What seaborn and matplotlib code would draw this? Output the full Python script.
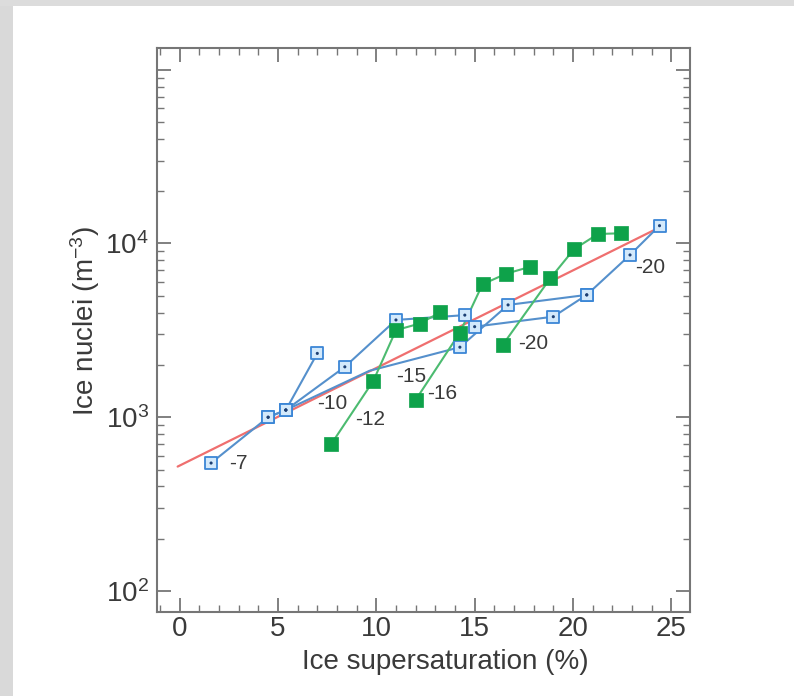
import matplotlib
matplotlib.use("Agg")
import numpy as np
import pandas as pd
import seaborn as sns
import matplotlib.pyplot as plt
from matplotlib.ticker import FixedLocator, MultipleLocator, NullFormatter
from matplotlib.patches import Rectangle

# ---------------- data ----------------
# blue curves (open squares)
b7_x = [1.6, 4.5, 5.4, 7.0]
b7_y = [545, 1000, 1100, 2330]
b7_mark = [1, 1, 1, 1]

b10_x = [4.5, 5.4, 8.4, 11.0, 14.5, 15.0, 19.0, 20.7]
b10_y = [1000, 1100, 1950, 3630, 3870, 3320, 3790, 5060]
b10_mark = [1, 1, 1, 1, 1, 1, 1, 1]

b15_x = [5.4, 9.65, 14.25, 16.7, 20.7, 22.9, 24.4]
b15_y = [1100, 1850, 2530, 4430, 5060, 8590, 12660]
b15_mark = [1, 0, 1, 1, 1, 1, 1]

# green curves (filled squares)
g12_x = [7.7, 9.85, 11.0, 12.2, 13.25]
g12_y = [698, 1620, 3170, 3460, 4010]

g16_x = [12.0, 14.25, 15.4, 16.6, 17.84]
g16_y = [1257, 3070, 5820, 6700, 7350]

g20_x = [16.43, 18.85, 20.05, 21.27, 22.45]
g20_y = [2610, 6310, 9260, 11340, 11450]

# red fit line
red_x = [-0.1, 24.1]
red_y = [520, 11900]

# curve labels (temperature, deg C)
lab_text = ["-7", "-10", "-15", "-20", "-12", "-16", "-20"]
lab_x = [2.5, 7.0, 11.0, 23.15, 8.9, 12.6, 17.2]
lab_y = [542, 1200, 1715, 7280, 964, 1370, 2655]

xticks = [0, 5, 10, 15, 20, 25]
yticks = [1e2, 1e3, 1e4, 1e5]
ytick_labels = ["10$^2$", "10$^3$", "10$^4$", ""]
yminor = [m * 10 ** e for e in (2, 3, 4) for m in range(2, 10)]

# ---------------- frames ----------------
def frame(name, xs, ys, marks=None):
    if marks is None:
        marks = [1] * len(xs)
    return pd.DataFrame({"S": xs, "N": ys, "curve": name, "mark": marks})

blue = pd.concat([frame("-7", b7_x, b7_y, b7_mark),
                  frame("-10", b10_x, b10_y, b10_mark),
                  frame("-15", b15_x, b15_y, b15_mark)], ignore_index=True)
green = pd.concat([frame("-12", g12_x, g12_y),
                   frame("-16", g16_x, g16_y),
                   frame("-20", g20_x, g20_y)], ignore_index=True)
red = pd.DataFrame({"S": red_x, "N": red_y})

# ---------------- style ----------------
sns.set_theme(style="white")
plt.rcParams["font.family"] = ["Liberation Sans", "DejaVu Sans"]
plt.rcParams["mathtext.fontset"] = "custom"
plt.rcParams["mathtext.rm"] = "Liberation Sans"
plt.rcParams["mathtext.it"] = "Liberation Sans:italic"
plt.rcParams["mathtext.bf"] = "Liberation Sans:bold"

BLUE_LINE = "#5590cc"
BLUE_EDGE = "#3b86d6"
BLUE_FACE = "#d3e9fb"
GREEN_LINE = "#4cbb70"
GREEN_MARK = "#0ea24a"
RED = "#ef6f6f"
FRAME = "#767676"
TXT = "#3a3a3a"

fig = plt.figure(figsize=(7.94, 6.96), dpi=100)
fig.patch.set_facecolor("white")
fig.patches.append(Rectangle((0, 0), 13 / 794, 1, transform=fig.transFigure,
                             facecolor="#d9d9d9", edgecolor="none", zorder=0))
fig.patches.append(Rectangle((0, 1 - 6 / 696), 1, 6 / 696, transform=fig.transFigure,
                             facecolor="#dcdcdc", edgecolor="none", zorder=0))

ax = fig.add_axes([157 / 794, 1 - 612 / 696, (690 - 157) / 794, (612 - 47.5) / 696])
ax.set_yscale("log")

sns.lineplot(data=red, x="S", y="N", color=RED, lw=1.6, ax=ax,
             estimator=None, sort=False, zorder=2)
sns.lineplot(data=blue, x="S", y="N", units="curve", color=BLUE_LINE, lw=1.5,
             ax=ax, estimator=None, sort=False, zorder=3)
sns.lineplot(data=green, x="S", y="N", units="curve", color=GREEN_LINE, lw=1.5,
             ax=ax, estimator=None, sort=False, zorder=3)

bm = blue[blue["mark"] == 1]
sns.scatterplot(data=bm, x="S", y="N", marker="s", s=85, color=BLUE_FACE,
                edgecolor=BLUE_EDGE, linewidth=1.3, ax=ax, zorder=4)
sns.scatterplot(data=bm, x="S", y="N", marker="o", s=5, color="#1c3f73",
                edgecolor="none", ax=ax, zorder=5)
sns.scatterplot(data=green, x="S", y="N", marker="s", s=90, color=GREEN_MARK,
                edgecolor=GREEN_MARK, linewidth=0.5, ax=ax, zorder=4)

for t, x, y in zip(lab_text, lab_x, lab_y):
    ax.text(x, y, t, fontsize=15, color=TXT, ha="left", va="center", zorder=6)

ax.set_xlim(-1.15, 25.95)
ax.set_ylim(10 ** 1.879, 10 ** 5.128)

ax.xaxis.set_major_locator(FixedLocator(xticks))
ax.set_xticklabels([str(v) for v in xticks])
ax.xaxis.set_minor_locator(MultipleLocator(1))
ax.yaxis.set_major_locator(FixedLocator(yticks))
ax.set_yticklabels(ytick_labels)
ax.yaxis.set_minor_locator(FixedLocator(yminor))
ax.yaxis.set_minor_formatter(NullFormatter())

ax.tick_params(which="both", direction="in", top=True, right=True,
               bottom=True, left=True, color=FRAME, labelcolor=TXT)
ax.tick_params(which="major", length=10, width=1.3)
ax.tick_params(which="minor", length=5, width=1.0)
ax.tick_params(axis="x", which="major", labelsize=20, pad=3)
ax.tick_params(axis="y", which="major", labelsize=20, pad=6)

for sp in ax.spines.values():
    sp.set_color(FRAME)
    sp.set_linewidth(1.5)

ax.set_xlabel("Ice supersaturation (%)", fontsize=20, color=TXT)
ax.set_ylabel("Ice nuclei (m$^{-3}$)", fontsize=20, color=TXT)
ax.xaxis.set_label_coords(0.54, -0.065)
ax.yaxis.set_label_coords(-0.103, 0.515)
ax.grid(False)

fig.savefig("out.png", dpi=100)
